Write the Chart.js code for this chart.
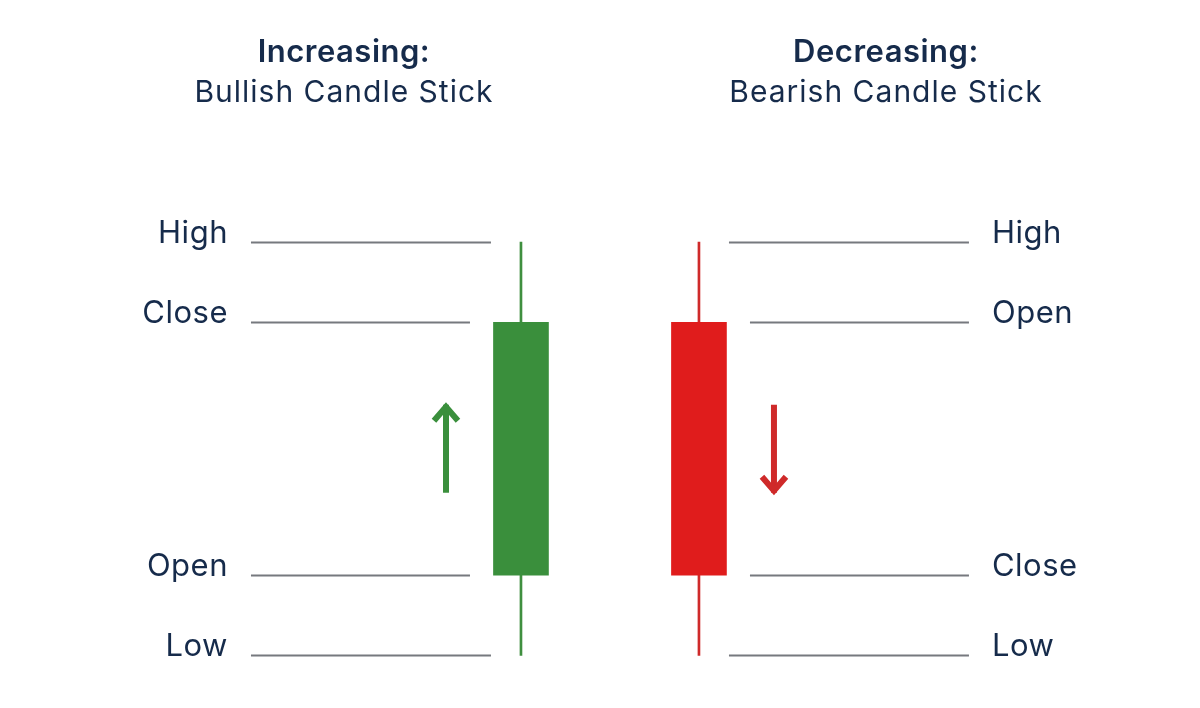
<!DOCTYPE html>
<html>
<head>
<meta charset="utf-8">
<title>Bullish and Bearish Candle Sticks</title>
<script src="https://cdn.jsdelivr.net/npm/chart.js@4.4.1/dist/chart.umd.min.js"></script>
<style>
  html, body { margin: 0; padding: 0; background: #ffffff; }
  #wrap { width: 1200px; height: 708px; }
</style>
</head>
<body>
<div id="wrap"><canvas id="candleCanvas" width="1200" height="708"></canvas></div>
<script>
// candle data (price units)
const candleNames = ['Bullish', 'Bearish'];
const titleTop = ['Increasing:', 'Decreasing:'];
const titleSub = ['Bullish Candle Stick', 'Bearish Candle Stick'];
const opens = [30, 93];
const closes = [93, 30];
const highs = [113, 113];
const lows = [10, 10];

const TEXT = '#162b4b';
const GUIDE = '#76797e';
const UP = '#3a8f3c';
const DOWN = '#e01c1c';
const UP_WICK = '#3f8f3f';
const DOWN_WICK = '#cf2a2a';

const isUp = opens.map((o, i) => closes[i] >= o);

// guides, labels, titles and arrows drawn next to each candle
const sketchPlugin = {
    id: 'sketch',
    afterDatasetsDraw(chart) {
        const { ctx, scales: { x, y } } = chart;
        ctx.save();
        candleNames.forEach((name, i) => {
            const cx = x.getPixelForValue(i);
            const left = i === 0; // first candle gets labels on the left
            const dir = left ? -1 : 1;
            const bodyTop = Math.max(opens[i], closes[i]);
            const bodyBot = Math.min(opens[i], closes[i]);
            const levels = [
                { v: highs[i], label: 'High', wick: true },
                { v: bodyTop, label: isUp[i] ? 'Close' : 'Open', wick: false },
                { v: bodyBot, label: isUp[i] ? 'Open' : 'Close', wick: false },
                { v: lows[i], label: 'Low', wick: true }
            ];

            // horizontal guide lines + labels
            ctx.strokeStyle = GUIDE;
            ctx.lineWidth = 2;
            ctx.fillStyle = TEXT;
            ctx.font = '400 31px Inter';
            ctx.letterSpacing = '0.5px';
            ctx.textBaseline = 'alphabetic';
            levels.forEach(l => {
                const py = Math.round(y.getPixelForValue(l.v)) + 0.5;
                const near = cx + dir * (l.wick ? 30 : 51);
                const far = cx + dir * 270;
                ctx.beginPath();
                ctx.moveTo(near, py);
                ctx.lineTo(far, py);
                ctx.stroke();
                ctx.textAlign = left ? 'right' : 'left';
                ctx.fillText(l.label, cx + dir * 293, py);
            });

            // titles
            const tx = left ? cx - 177 : cx + 187;
            ctx.textAlign = 'center';
            ctx.font = '600 31px Inter';
            ctx.letterSpacing = '0.5px';
            ctx.fillText(titleTop[i], tx, 62);
            ctx.font = '400 30px Inter';
            ctx.letterSpacing = '1px';
            ctx.fillText(titleSub[i], tx, 102);

            // direction arrow beside the body
            const ax = cx + dir * 75;
            const mid = y.getPixelForValue((opens[i] + closes[i]) / 2);
            const top = mid - 44, bot = mid + 44;
            const col = isUp[i] ? UP : DOWN_WICK;
            ctx.strokeStyle = col;
            ctx.lineWidth = 6;
            ctx.lineCap = 'butt';
            ctx.beginPath();
            ctx.moveTo(ax, top);
            ctx.lineTo(ax, bot);
            ctx.stroke();
            const tipY = isUp[i] ? top + 2 : bot - 2;
            const armY = isUp[i] ? tipY + 14 : tipY - 14;
            ctx.lineJoin = 'miter';
            ctx.beginPath();
            ctx.moveTo(ax - 12, armY);
            ctx.lineTo(ax, tipY);
            ctx.lineTo(ax + 12, armY);
            ctx.stroke();
        });
        ctx.restore();
    }
};

const bodyData = candleNames.map((n, i) => ({ x: i, y: [opens[i], closes[i]] }));
const wickData = candleNames.map((n, i) => ({ x: i, y: [lows[i], highs[i]] }));

new Chart(document.getElementById('candleCanvas').getContext('2d'), {
    type: 'bar',
    data: {
        datasets: [{
            label: 'Body',
            data: bodyData,
            backgroundColor: isUp.map(u => u ? UP : DOWN),
            borderWidth: 0,
            barThickness: 55,
            grouped: false,
            order: 1
        }, {
            label: 'Wick',
            data: wickData,
            backgroundColor: isUp.map(u => u ? UP_WICK : DOWN_WICK),
            borderWidth: 0,
            barThickness: 2,
            grouped: false,
            order: 2
        }]
    },
    options: {
        responsive: false,
        devicePixelRatio: 1,
        animation: false,
        layout: { padding: 0 },
        scales: {
            x: { type: 'linear', offset: false, min: -2.927, max: 3.815, display: false },
            y: { min: -3.08, max: 173.28, display: false }
        },
        plugins: {
            legend: { display: false },
            tooltip: { enabled: false }
        }
    },
    plugins: [sketchPlugin]
});
</script>
</body>
</html>
